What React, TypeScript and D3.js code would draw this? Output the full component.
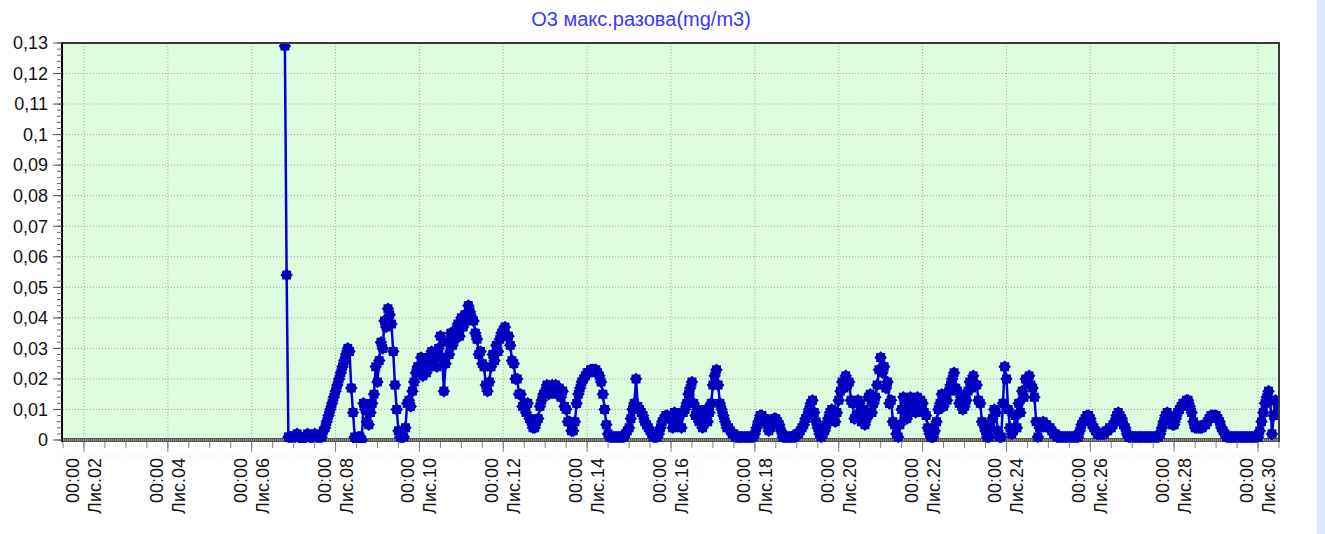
import { useMemo } from 'react';
import * as d3 from 'd3';

const WIDTH = 1325;
const HEIGHT = 534;
const PLOT = { left: 63, top: 43, right: 1279, bottom: 440 };
const FONT = '"Liberation Sans", Arial, sans-serif';

const TITLE = 'O3 макс.разова(mg/m3)';

// x domain: Лис.01 12:00 .. Лис.30 12:00
const X_START = new Date(2015, 10, 1, 12);
const X_END = new Date(2015, 10, 30, 12);

const X_TICK_DAYS = [2, 4, 6, 8, 10, 12, 14, 16, 18, 20, 22, 24, 26, 28, 30];
const X_TICK_TIME = '00:00';
const X_TICK_LABELS = [
  'Лис.02', 'Лис.04', 'Лис.06', 'Лис.08', 'Лис.10', 'Лис.12', 'Лис.14', 'Лис.16',
  'Лис.18', 'Лис.20', 'Лис.22', 'Лис.24', 'Лис.26', 'Лис.28', 'Лис.30',
];

const Y_TICKS = [0, 0.01, 0.02, 0.03, 0.04, 0.05, 0.06, 0.07, 0.08, 0.09, 0.1, 0.11, 0.12, 0.13];
const Y_TICK_LABELS = ['0', '0,01', '0,02', '0,03', '0,04', '0,05', '0,06', '0,07', '0,08', '0,09', '0,1', '0,11', '0,12', '0,13'];

// hourly readings, starting Лис.06 19:00 (one row per day)
const SERIES_START = new Date(2015, 10, 6, 19);
const STEP_HOURS = 1;
const O3_VALUES = [
  0.129, 0.054, 0.001, 0.001, 0.001,
  0.001, 0.001, 0.002, 0.001, 0.001, 0.000, 0.001, 0.001, 0.002, 0.001, 0.001, 0.001, 0.002, 0.001, 0.001, 0.001, 0.001, 0.003, 0.004, 0.006, 0.008, 0.010, 0.012, 0.014,
  0.016, 0.018, 0.020, 0.022, 0.024, 0.026, 0.028, 0.030, 0.029, 0.017, 0.009, 0.001, 0.000, 0.001, 0.001, 0.000, 0.012, 0.010, 0.006, 0.005, 0.009, 0.012, 0.015, 0.024,
  0.019, 0.026, 0.032, 0.030, 0.039, 0.037, 0.043, 0.041, 0.038, 0.029, 0.018, 0.010, 0.003, 0.001, 0.001, 0.001, 0.004, 0.012, 0.013, 0.011, 0.016, 0.019, 0.022, 0.024,
  0.024, 0.027, 0.021, 0.026, 0.022, 0.027, 0.024, 0.029, 0.025, 0.028, 0.024, 0.030, 0.034, 0.027, 0.016, 0.025, 0.032, 0.028, 0.035, 0.031, 0.033, 0.036, 0.038, 0.034,
  0.040, 0.037, 0.041, 0.039, 0.044, 0.042, 0.040, 0.039, 0.035, 0.033, 0.028, 0.029, 0.025, 0.024, 0.018, 0.016, 0.019, 0.024, 0.028, 0.026, 0.031, 0.029, 0.033, 0.035,
  0.036, 0.037, 0.034, 0.034, 0.031, 0.026, 0.025, 0.020, 0.020, 0.015, 0.015, 0.011, 0.012, 0.009, 0.012, 0.007, 0.006, 0.004, 0.004, 0.006, 0.007, 0.011, 0.013, 0.015,
  0.016, 0.018, 0.015, 0.017, 0.018, 0.016, 0.018, 0.015, 0.017, 0.014, 0.016, 0.011, 0.010, 0.006, 0.006, 0.003, 0.003, 0.006, 0.012, 0.015, 0.017, 0.019, 0.020, 0.021,
  0.022, 0.022, 0.023, 0.023, 0.023, 0.023, 0.022, 0.021, 0.019, 0.015, 0.010, 0.005, 0.002, 0.001, 0.001, 0.001, 0.001, 0.001, 0.001, 0.001, 0.001, 0.001, 0.002, 0.003,
  0.004, 0.007, 0.010, 0.012, 0.020, 0.011, 0.010, 0.009, 0.008, 0.006, 0.005, 0.004, 0.003, 0.002, 0.001, 0.001, 0.001, 0.002, 0.004, 0.006, 0.007, 0.008, 0.008, 0.007,
  0.007, 0.004, 0.009, 0.005, 0.005, 0.008, 0.004, 0.009, 0.010, 0.012, 0.015, 0.017, 0.019, 0.012, 0.008, 0.010, 0.006, 0.009, 0.004, 0.008, 0.010, 0.006, 0.009, 0.012,
  0.018, 0.021, 0.023, 0.018, 0.012, 0.010, 0.008, 0.006, 0.004, 0.004, 0.003, 0.002, 0.002, 0.001, 0.001, 0.001, 0.001, 0.001, 0.001, 0.001, 0.001, 0.001, 0.001, 0.001,
  0.002, 0.004, 0.006, 0.008, 0.008, 0.007, 0.007, 0.005, 0.003, 0.004, 0.006, 0.007, 0.007, 0.006, 0.005, 0.003, 0.001, 0.001, 0.001, 0.001, 0.001, 0.001, 0.001, 0.001,
  0.002, 0.002, 0.003, 0.004, 0.005, 0.007, 0.008, 0.010, 0.012, 0.013, 0.009, 0.006, 0.004, 0.002, 0.001, 0.002, 0.003, 0.005, 0.007, 0.009, 0.010, 0.008, 0.006, 0.009,
  0.013, 0.016, 0.019, 0.017, 0.021, 0.018, 0.019, 0.013, 0.012, 0.007, 0.008, 0.013, 0.012, 0.006, 0.010, 0.005, 0.007, 0.014, 0.015, 0.009, 0.012, 0.014, 0.018, 0.023,
  0.027, 0.022, 0.024, 0.017, 0.019, 0.012, 0.013, 0.006, 0.005, 0.002, 0.001, 0.005, 0.010, 0.014, 0.012, 0.007, 0.010, 0.014, 0.011, 0.013, 0.009, 0.014, 0.011, 0.013,
  0.012, 0.009, 0.008, 0.004, 0.002, 0.001, 0.001, 0.003, 0.006, 0.010, 0.012, 0.015, 0.011, 0.015, 0.013, 0.016, 0.018, 0.020, 0.022, 0.017, 0.016, 0.012, 0.014, 0.010,
  0.011, 0.013, 0.016, 0.019, 0.017, 0.021, 0.018, 0.018, 0.013, 0.012, 0.006, 0.005, 0.003, 0.001, 0.001, 0.004, 0.007, 0.010, 0.009, 0.003, 0.001, 0.001, 0.012, 0.024,
  0.020, 0.010, 0.004, 0.002, 0.003, 0.008, 0.004, 0.012, 0.009, 0.016, 0.014, 0.020, 0.019, 0.021, 0.018, 0.017, 0.014, 0.006, 0.001, 0.004, 0.005, 0.006, 0.005, 0.005,
  0.004, 0.004, 0.003, 0.002, 0.002, 0.001, 0.001, 0.001, 0.001, 0.001, 0.001, 0.001, 0.001, 0.001, 0.001, 0.001, 0.001, 0.001, 0.003, 0.005, 0.006, 0.007, 0.008, 0.008,
  0.007, 0.005, 0.004, 0.003, 0.002, 0.002, 0.002, 0.002, 0.002, 0.003, 0.003, 0.004, 0.004, 0.005, 0.006, 0.008, 0.009, 0.008, 0.007, 0.005, 0.004, 0.002, 0.001, 0.001,
  0.001, 0.001, 0.001, 0.001, 0.001, 0.001, 0.001, 0.001, 0.001, 0.001, 0.001, 0.001, 0.001, 0.001, 0.001, 0.001, 0.002, 0.004, 0.006, 0.008, 0.009, 0.008, 0.006, 0.005,
  0.005, 0.007, 0.009, 0.010, 0.011, 0.012, 0.012, 0.013, 0.013, 0.011, 0.009, 0.006, 0.004, 0.004, 0.004, 0.004, 0.004, 0.005, 0.005, 0.006, 0.007, 0.008, 0.008, 0.008,
  0.008, 0.007, 0.006, 0.004, 0.003, 0.002, 0.001, 0.001, 0.001, 0.001, 0.001, 0.001, 0.001, 0.001, 0.001, 0.001, 0.001, 0.001, 0.001, 0.001, 0.001, 0.001, 0.001, 0.001,
  0.001, 0.003, 0.006, 0.009, 0.012, 0.014, 0.016, 0.013, 0.002, 0.008, 0.013, 0.012, 0.010,
];

// 8-point star marker
function starPath(rOuter: number, rInner: number, n: number) {
  const pts = d3.range(n * 2).map((i) => {
    const r = i % 2 === 0 ? rOuter : rInner;
    const a = (Math.PI * i) / n - Math.PI / 2;
    return [r * Math.cos(a), r * Math.sin(a)] as [number, number];
  });
  return (d3.line()(pts) ?? '') + 'Z';
}

export default function App() {
  const { x, y, points, linePath, majorX, minorX, minorY } = useMemo(() => {
    const x = d3.scaleTime().domain([X_START, X_END]).range([PLOT.left, PLOT.right]);
    const y = d3.scaleLinear().domain([0, 0.13]).range([PLOT.bottom, PLOT.top]);
    const points = O3_VALUES.map((v, i) => ({
      t: d3.timeHour.offset(SERIES_START, i * STEP_HOURS),
      v,
    }));
    const line = d3
      .line<{ t: Date; v: number }>()
      .x((d) => x(d.t))
      .y((d) => y(d.v));
    const majorX = X_TICK_DAYS.map((d) => new Date(2015, 10, d, 0));
    const minorX = d3.timeHour.every(12)!.range(X_START, d3.timeHour.offset(X_END, 1));
    const minorY = d3.range(0, 66).map((i) => i * 0.002);
    return { x, y, points, linePath: line(points) ?? '', majorX, minorX, minorY };
  }, []);

  const marker = starPath(6.3, 4.9, 8);
  const plotW = PLOT.right - PLOT.left;
  const plotH = PLOT.bottom - PLOT.top;

  return (
    <svg
      width={WIDTH}
      height={HEIGHT}
      style={{ position: 'absolute', left: 0, top: 0, background: '#fff' }}
      fontFamily={FONT}
    >
      <defs>
        <clipPath id="plotClip">
          <rect x={PLOT.left} y={PLOT.top} width={plotW} height={plotH + 3} />
        </clipPath>
      </defs>

      {/* right edge strip */}
      <rect x={1317} y={0} width={8} height={HEIGHT} fill="#dde8f8" />

      {/* title */}
      <text x={641} y={26} textAnchor="middle" fill="#3838ff" fontSize={20}>
        {TITLE}
      </text>

      {/* plot background */}
      <rect x={PLOT.left} y={PLOT.top} width={plotW} height={plotH} fill="#ddfcdd" />

      {/* horizontal grid */}
      {Y_TICKS.slice(1, -1).map((t) => (
        <line
          key={t}
          x1={PLOT.left}
          x2={PLOT.right}
          y1={y(t)}
          y2={y(t)}
          stroke="#a4aca4"
          strokeDasharray="1 2"
        />
      ))}
      {/* vertical grid */}
      {majorX.map((d) => (
        <line
          key={+d}
          x1={x(d)}
          x2={x(d)}
          y1={PLOT.top}
          y2={PLOT.bottom}
          stroke="#a4aca4"
          strokeDasharray="1 2"
        />
      ))}

      {/* zero band */}
      <rect x={PLOT.left} y={438} width={plotW} height={4} fill="#555" />
      <line x1={PLOT.left} x2={PLOT.right} y1={440} y2={440} stroke="#d8d8d8" strokeDasharray="1 1" />

      {/* series */}
      <g clipPath="url(#plotClip)">
        <path d={linePath} fill="none" stroke="#0000dd" strokeWidth={2.5} />
        {points.map((p, i) => (
          <path key={i} d={marker} transform={`translate(${x(p.t)},${y(p.v)})`} fill="#0000c0" />
        ))}
      </g>

      {/* frame */}
      <line x1={PLOT.left} x2={PLOT.right + 1} y1={PLOT.top} y2={PLOT.top} stroke="#3a3a3a" strokeWidth={2} />
      <line x1={PLOT.right} x2={PLOT.right} y1={PLOT.top} y2={PLOT.bottom + 2} stroke="#3a3a3a" strokeWidth={2} />
      <line x1={PLOT.left - 1} x2={PLOT.left - 1} y1={PLOT.top - 1} y2={PLOT.bottom + 2} stroke="#000" strokeWidth={2} />

      {/* y ticks */}
      {minorY.map((t, i) => (
        <line key={i} x1={PLOT.left - 6} x2={PLOT.left - 1} y1={y(t)} y2={y(t)} stroke="#666" />
      ))}
      {Y_TICKS.map((t, i) => (
        <g key={t}>
          <line x1={PLOT.left - 10} x2={PLOT.left - 1} y1={y(t)} y2={y(t)} stroke="#555" />
          <text x={48} y={y(t)} dy="0.35em" textAnchor="end" fontSize={18} fill="#111">
            {Y_TICK_LABELS[i]}
          </text>
        </g>
      ))}

      {/* x ticks */}
      {minorX.map((d) => (
        <line key={+d} x1={x(d)} x2={x(d)} y1={442} y2={448} stroke="#808080" />
      ))}
      {majorX.map((d, i) => (
        <g key={+d}>
          <line x1={x(d)} x2={x(d)} y1={442} y2={452} stroke="#808080" />
          <text
            transform={`translate(${x(d)},458) rotate(-90)`}
            textAnchor="end"
            fontSize={18}
            fill="#111"
          >
            <tspan x={0} y={-5}>{X_TICK_TIME}</tspan>
            <tspan x={0} y={17}>{X_TICK_LABELS[i]}</tspan>
          </text>
        </g>
      ))}
      <line x1={PLOT.left} x2={PLOT.right} y1={456} y2={456} stroke="#cfe0f5" strokeDasharray="2 4" />
    </svg>
  );
}
